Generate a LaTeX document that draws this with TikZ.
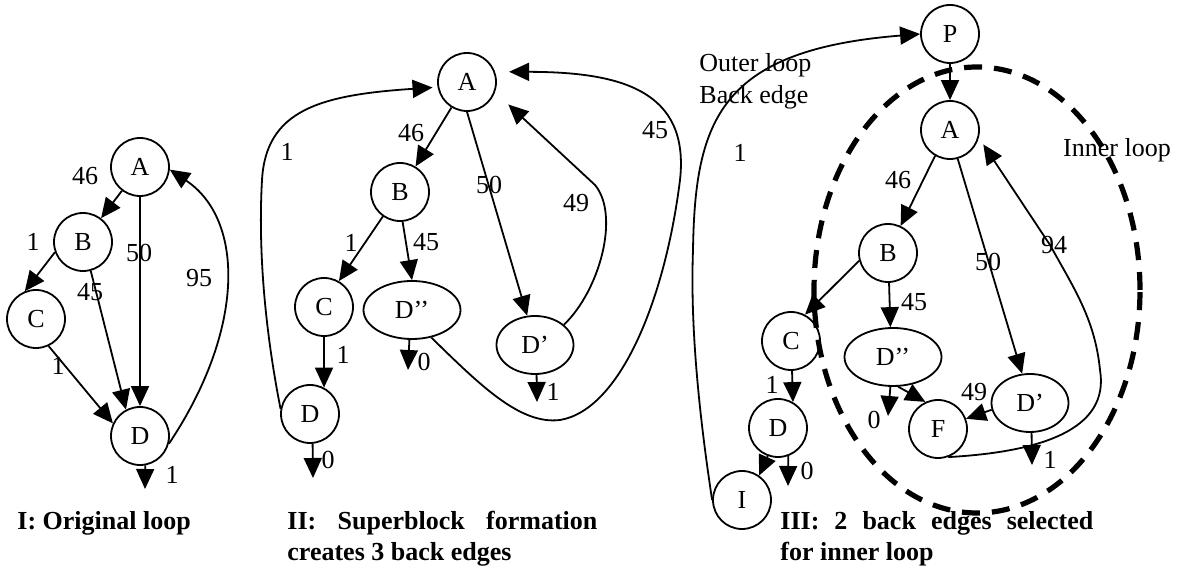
\documentclass[tikz,border=0pt]{standalone}
\usepackage{fontspec}
\setmainfont{Liberation Serif}
\usetikzlibrary{arrows.meta}
\usetikzlibrary{shapes.geometric}
\newcommand\lblfont{\fontsize{13}{16}\selectfont}
\newcommand\captfont{\fontsize{13}{15.5}\selectfont\bfseries}
\tikzset{
	blk/.style={circle, draw=black, line width=0.9pt, minimum size=29pt, inner sep=0pt, font=\lblfont},
	blkwide/.style={ellipse, draw=black, line width=0.9pt, minimum width=48.5pt, minimum height=29pt, inner sep=0pt, font=\lblfont},
	flow/.style={-{Triangle[length=10pt,width=9pt]}, line width=0.9pt},
	wt/.style={inner sep=0pt, font=\lblfont},
	capt/.style={inner sep=0pt, font=\captfont, align=left, anchor=north west},
	innerloop/.style={ellipse, draw=black, line width=2.6pt, dash pattern=on 9pt off 6pt, minimum width=163pt, minimum height=223pt, inner sep=0pt}
}
\begin{document}
\begin{tikzpicture}[x=0.5pt, y=-0.5pt]
	\useasboundingbox (0,0) rectangle (1178,581);

	% I: original loop
	\node[blk] (A1) at (140,167) {A};
	\node[blk] (B1) at (83,242) {B};
	\node[blk] (C1) at (36,319) {C};
	\node[blk] (D1) at (140,436) {D};
	\coordinate (D1out) at (145,489);
	\draw[flow] (A1) -- (B1);
	\draw[flow] (B1.-160) -- (C1.112);
	\draw[flow] (A1) -- (D1);
	\draw[flow] (B1.-75) -- (D1.118);
	\draw[flow] (C1.-65) -- (D1.155);
	\draw[flow] (D1.-15) .. controls (245,330) and (245,220) .. (A1.-5);
	\draw[flow] (D1.-80) -- (D1out);
	\node[wt] (w1ab) at (85,176) {46};
	\node[wt] (w1bc) at (33,242) {1};
	\node[wt] (w1ad) at (139,253) {50};
	\node[wt] (w1bd) at (90,292) {45};
	\node[wt] (w1cd) at (58,366) {1};
	\node[wt] (w1da) at (199,278) {95};
	\node[wt] (w1out) at (172,475) {1};

	% II: superblock
	\node[blk] (A2) at (467,82) {A};
	\node[blk] (B2) at (400,192) {B};
	\node[blk] (C2) at (324,307) {C};
	\node[blkwide] (Dpp2) at (412,310) {D’’};
	\node[blk] (D2) at (310,414) {D};
	\node[blkwide, minimum width=38.5pt] (Dp2) at (535,345) {D’};
	\coordinate (D2out) at (313,478);
	\coordinate (Dpp2out) at (408,370);
	\coordinate (Dp2out) at (537,402);
	\draw[flow] (A2) -- (B2);
	\draw[flow] (A2.south) -- (Dp2.105);
	\draw[flow] (B2.-125) -- (C2.60);
	\draw[flow] (B2.-85) -- (Dpp2.north);
	\draw[flow] (C2.south) -- (D2.62);
	\draw[flow] (D2.-85) -- (D2out);
	\draw[flow] (Dpp2.-95) -- (Dpp2out);
	\draw[flow] (Dp2.-87) -- (Dp2out);
	\draw[flow, shorten >=7pt] (Dpp2.-55) .. controls (480,385) and (520,425) .. (560,420)
		.. controls (620,410) and (665,300) .. (680,180)
		.. controls (690,90) and (620,72) .. (A2.20);
	\draw[flow, shorten >=9pt] (Dp2.35) .. controls (600,290) and (620,215) .. (595,185) -- (A2.-20);
	\draw[flow, shorten >=2.5pt] (D2.170) .. controls (265,330) and (258,250) .. (262,180)
		.. controls (266,110) and (320,95) .. (A2.190);
	\node[wt] (w2ab) at (411,133) {46};
	\node[wt] (w2adp) at (489,185) {50};
	\node[wt] (w2bc) at (351,243) {1};
	\node[wt] (w2bdpp) at (426,242) {45};
	\node[wt] (w2cd) at (343,355) {1};
	\node[wt] (w2dppout) at (424,362) {0};
	\node[wt] (w2dpout) at (553,392) {1};
	\node[wt] (w2dout) at (328,460) {0};
	\node[wt] (w2dpa) at (576,203) {49};
	\node[wt] (w2dppa) at (655,130) {45};
	\node[wt] (w2da) at (287,152) {1};

	% III: inner loop
	\node[innerloop] (inner) at (977,290) {};
	\node[blk] (P3) at (950,34) {P};
	\node[blk] (A3) at (950,130) {A};
	\node[blk] (B3) at (888,253) {B};
	\node[blk] (C3) at (791,341) {C};
	\node[blk] (D3) at (778,428) {D};
	\node[blk] (I3) at (742,500) {I};
	\node[blkwide] (Dpp3) at (893,357) {D’’};
	\node[blk] (F3) at (938,429) {F};
	\node[blkwide, minimum width=38.5pt] (Dp3) at (1030,403) {D’};
	\coordinate (D3out) at (788,486);
	\coordinate (Dpp3out) at (888,416);
	\coordinate (Dp3out) at (1032,465);
	\draw[flow] (P3) -- (A3);
	\draw[flow] (A3.-120) -- (B3.65);
	\draw[flow] (B3.-165) -- (C3.62);
	\draw[flow] (B3.-88) -- (Dpp3.95);
	\draw[flow] (C3.-88) -- (D3.60);
	\draw[flow] (D3.-110) -- (I3.55);
	\draw[flow] (D3.-70) -- (D3out);
	\draw[flow] (A3.-75) -- (Dp3.105);
	\draw[flow] (Dpp3.-80) -- (F3.115);
	\draw[flow] (Dp3.190) -- (F3.20);
	\draw[flow] (Dpp3.-95) -- (Dpp3out);
	\draw[flow] (Dp3.-87) -- (Dp3out);
	\draw[flow, shorten >=4pt] (F3.-70) .. controls (1040,452) and (1110,430) .. (1100,370)
		.. controls (1095,320) and (1075,290) .. (1050,245) -- (A3.-15);
	\draw[flow] (I3.west) .. controls (700,420) and (690,330) .. (693,250)
		.. controls (695,120) and (720,50) .. (P3.west);
	\node[wt] (w3ab) at (898,180) {46};
	\node[wt] (w3cd) at (772,385) {1};
	\node[wt] (w3bdpp) at (914,302) {45};
	\node[wt] (w3adp) at (988,262) {50};
	\node[wt] (w3fa) at (1054,245) {94};
	\node[wt] (w3dpf) at (974,392) {49};
	\node[wt] (w3dppout) at (874,420) {0};
	\node[wt] (w3dout) at (807,471) {0};
	\node[wt] (w3dpout) at (1050,460) {1};
	\node[wt] (w3ip) at (740,153) {1};
	\node[wt, align=left, anchor=west] (outertxt) at (699,81) {Outer loop\\Back edge};
	\node[wt] (innertxt) at (1117,150) {Inner loop};

	% captions
	\node[capt] (cap1) at (17,511) {I: Original loop};
	\node[capt] (cap2) at (287,511) {\makebox[155pt][s]{II: Superblock formation}\\creates 3 back edges};
	\node[capt] (cap3) at (780,511) {\makebox[156.5pt][s]{III: 2 back edges selected}\\for inner loop};
\end{tikzpicture}
\end{document}
